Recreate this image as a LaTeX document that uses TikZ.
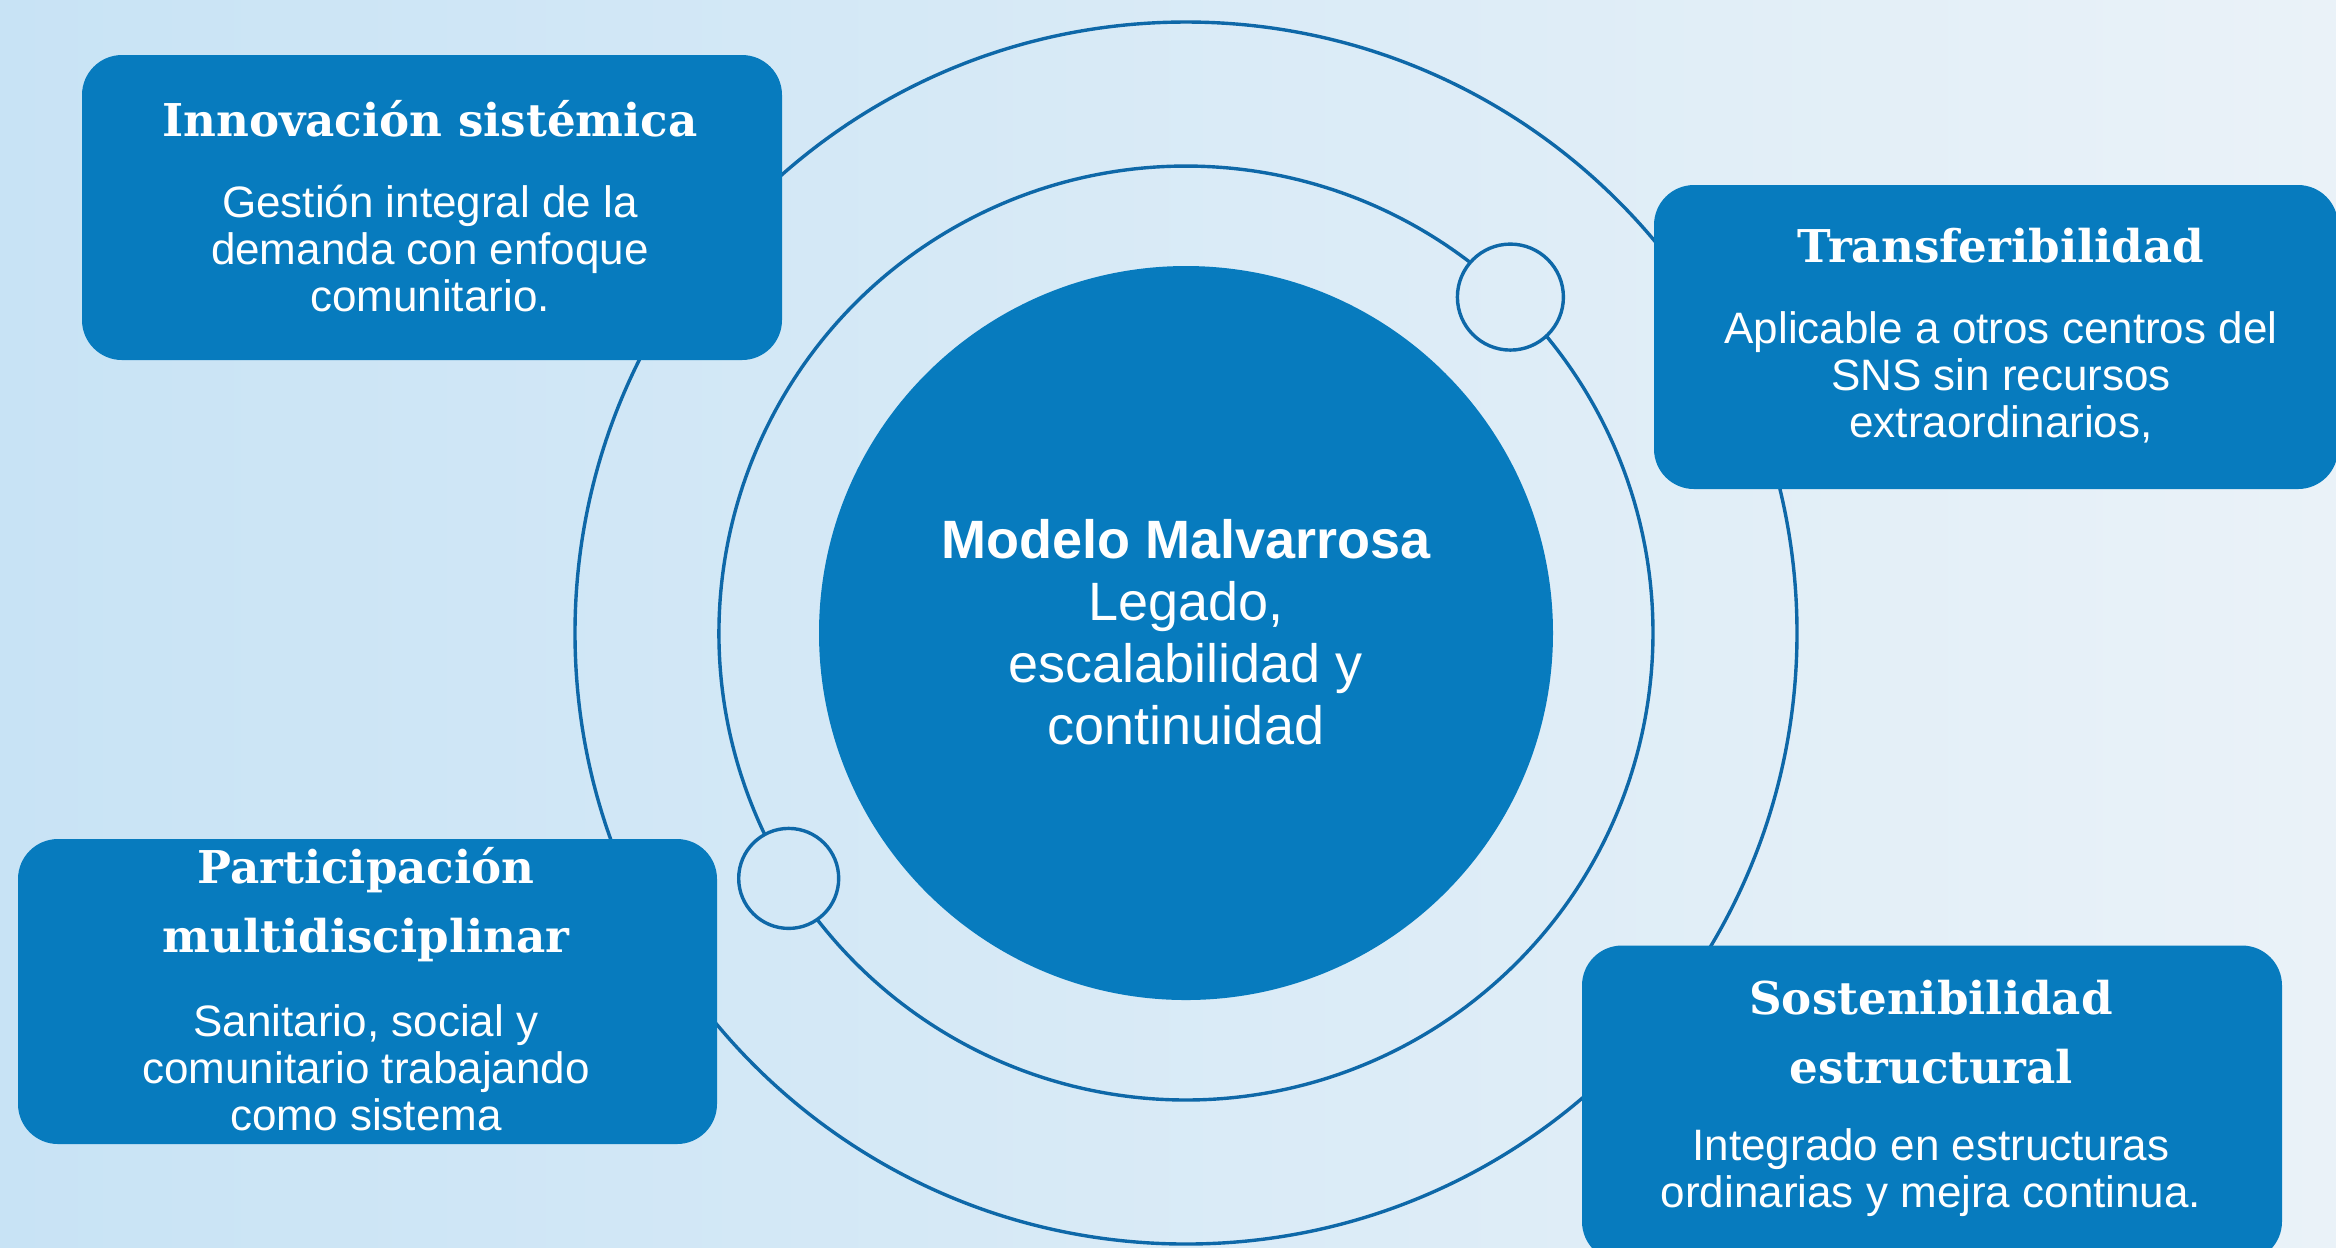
\documentclass[tikz,border=0pt]{standalone}
\usepackage{fontspec}
\setmainfont{Liberation Sans}
\newfontfamily\titlefont{DejaVu Serif}
\definecolor{bgL}{RGB}{200,227,245}
\definecolor{bgR}{RGB}{234,242,248}
\definecolor{cardblue}{RGB}{7,123,190}
\definecolor{ringc}{RGB}{14,104,168}
\tikzset{
  ring/.style={draw=ringc,line width=0.85pt},
  card/.style={rectangle,rounded corners=10pt,fill=cardblue,inner sep=0pt},
  ttl/.style={text=white,align=center,font=\titlefont\bfseries\fontsize{11.3}{17.25}\selectfont,inner sep=0pt},
  body/.style={text=white,align=center,font=\fontsize{11}{11.75}\selectfont,inner sep=0pt},
  dot/.style={circle,draw=ringc,line width=0.85pt,inner sep=0pt},
  hub/.style={circle,fill=cardblue,inner sep=0pt,minimum size=183.5pt},
  hubtext/.style={text=white,align=center,font=\fontsize{13.5}{15.5}\selectfont,inner sep=0pt}
}
\begin{document}
\begin{tikzpicture}[x=0.25pt,y=-0.25pt]
\useasboundingbox (0,0) rectangle (2336,1247);
\clip (0,0) rectangle (2336,1247);
\shade[left color=bgL,right color=bgR] (0,0) rectangle (2336,1247);
\coordinate (O) at (1186,633);
% outer ring
\draw[ring] (O) circle[radius=611];
% inner ring, broken at the two small circles
\draw[ring] (O) ++(-39.5:467) arc[start angle=-39.5,end angle=142.2,radius=467];
\draw[ring] (O) ++(154.4:467) arc[start angle=154.4,end angle=307.5,radius=467];
\path (O) ++(-46:467) node[dot,minimum size=26.5pt] (d1) {};
\path (O) ++(148.3:467) node[dot,minimum size=25pt] (d2) {};
% hub
\node[hub] (hub) at (O) {};
\node[hubtext] (hubt) at (1186,632) {\textbf{Modelo Malvarrosa}\\Legado,\\escalabilidad y\\continuidad};
% cards
\node[card,minimum width=175pt,minimum height=76.25pt] (b1) at (432,207.5) {};
\node[ttl] (t1) at (430,119) {Innovación sistémica};
\node[body] (p1) at (430,248) {Gestión integral de la\\demanda con enfoque\\comunitario.};
\node[card,minimum width=171pt,minimum height=76pt] (b2) at (1996,337) {};
\node[ttl] (t2) at (2001,246) {Transferibilidad};
\node[body] (p2) at (2001,377) {Aplicable a otros centros del\\SNS sin recursos\\extraordinarios,};
\node[card,minimum width=174.75pt,minimum height=76.25pt] (b3) at (367.5,991.5) {};
\node[ttl] (t3) at (366,904.5) {Participación\\multidisciplinar};
\node[body] (p3) at (366,1068) {Sanitario, social y\\comunitario trabajando\\como sistema};
\node[card,minimum width=175pt,minimum height=79pt] (b4) at (1932,1103.5) {};
\node[ttl] (t4) at (1931,1032.5) {Sostenibilidad\\estructural};
\node[body] (p4) at (1931,1173) {Integrado en estructuras\\ordinarias y mejra continua.};
\end{tikzpicture}
\end{document}
